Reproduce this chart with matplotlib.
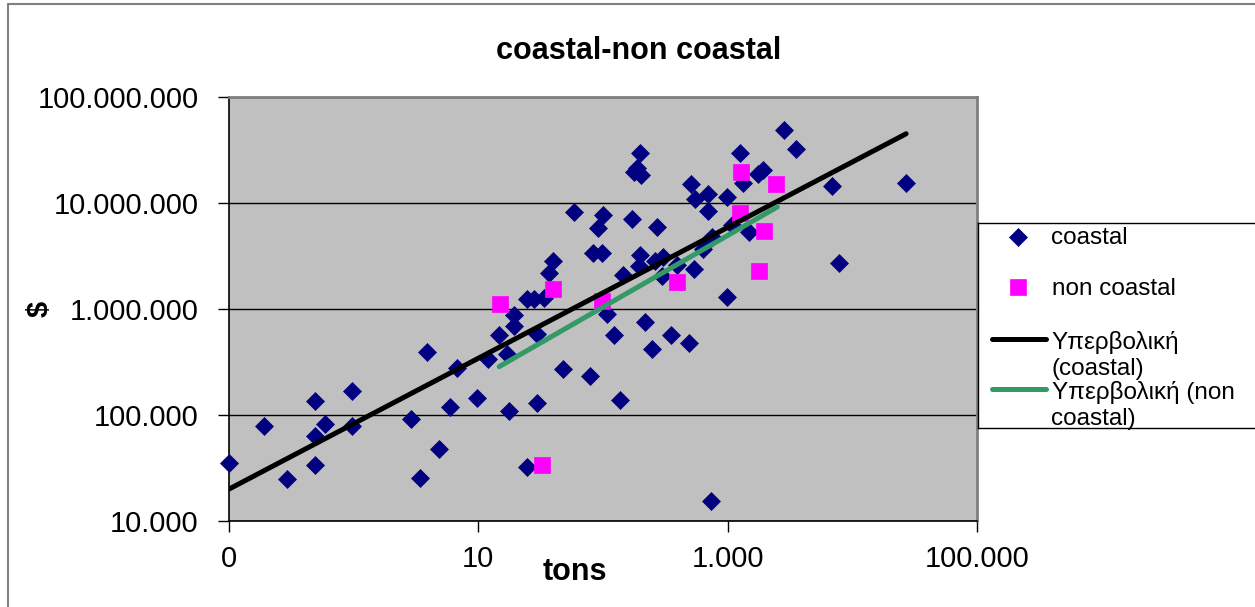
import numpy as np
import matplotlib.pyplot as plt
from matplotlib.patches import Rectangle
from matplotlib.ticker import NullLocator

plt.rcParams['font.family'] = ['Liberation Sans', 'DejaVu Sans']

# values (tons, $)
coastal_tons = [0.1, 0.19, 0.29, 0.49, 0.49, 0.59, 0.49, 0.97, 0.97, 2.9,
                3.4, 3.9, 4.8, 5.9, 6.8, 9.8, 11.9, 14.7, 17, 17.7,
                19.5, 19.5, 24.4, 29.4, 29.4, 48, 78, 137, 122, 108,
                216, 246, 145, 195, 36.6, 39.5, 24.4, 28, 33.4, 197,
                186, 201, 176, 58.7, 99.5, 91.5, 171, 272, 83.4, 98.6,
                197, 260, 301, 296, 394, 535, 637, 752, 1080, 1476,
                984, 7870, 2845, 3556, 1262, 1914, 1746, 1321, 511, 550,
                692, 984, 692, 6855, 26850, 349, 492, 731, 686]
coastal_usd = [35000, 79000, 25000, 137000, 64000, 83000, 33400, 170000, 78000, 91000,
               25700, 397000, 47800, 120000, 275000, 146000, 341000, 569000, 380000, 109000,
               869000, 692000, 32000, 587000, 131000, 269000, 233000, 140000, 574000, 897000,
               762000, 420000, 2094000, 2546000, 2163000, 2807000, 1256000, 1256000, 1283000, 29950000,
               21400000, 18400000, 19600000, 8220000, 7710000, 5810000, 7060000, 5940000, 3410000, 3370000,
               3230000, 2840000, 3090000, 2070000, 2600000, 2380000, 3680000, 4730000, 6200000, 5270000,
               1298000, 2716000, 48860000, 32300000, 29950000, 20700000, 18600000, 15280000, 14960000, 10900000,
               12160000, 11270000, 8490000, 14620000, 15450000, 574000, 483000, 15280, 4290000]

noncoastal_tons = [14.8, 39.4, 98.6, 32.3, 394, 1274, 2455, 1250, 1968, 1795]
noncoastal_usd = [1122000, 1545000, 1190000, 33760, 1817000, 19600000, 15210000, 8100000, 5440000, 2307000]

# power trendlines (end points)
coastal_fit_tons = [0.1, 27000]
coastal_fit_usd = [20000, 45000000]
noncoastal_fit_tons = [14.7, 2500]
noncoastal_fit_usd = [286000, 9170000]

x_ticks = [0.1, 10, 1000, 100000]
x_tick_labels = ['0', '10', '1.000', '100.000']
y_ticks = [1e4, 1e5, 1e6, 1e7, 1e8]
y_tick_labels = ['10.000', '100.000', '1.000.000', '10.000.000', '100.000.000']

legend_labels = ['coastal', 'non coastal', 'Υπερβολική\n(coastal)', 'Υπερβολική (non\ncoastal)']

NAVY = '#000080'
PINK = '#ff00ff'
GREEN = '#339966'
DIAMOND_MS = 9
SQUARE_MS = 11

W, H = 1255, 607
fig = plt.figure(figsize=(W / 100, H / 100), dpi=100)

# outer chart frame (right and bottom edges run off the picture)
fig.add_artist(Rectangle((8 / W, -5 / H), 1260 / W, 608 / H, transform=fig.transFigure,
                         fill=False, edgecolor='#808080', linewidth=1.5))

ax = fig.add_axes([229 / W, 1 - 521 / H, 748 / W, 424 / H])
ax.set_facecolor('#c0c0c0')
ax.set_xscale('log')
ax.set_yscale('log')
ax.set_xlim(0.1, 1e5)
ax.set_ylim(1e4, 1e8)

ax.plot(coastal_tons, coastal_usd, linestyle='none', marker='D', markersize=DIAMOND_MS,
        color=NAVY, markeredgewidth=0.5, clip_on=False, zorder=3)
ax.plot(noncoastal_tons, noncoastal_usd, linestyle='none', marker='s', markersize=SQUARE_MS,
        color=PINK, markeredgewidth=0.5, clip_on=False, zorder=3)
ax.plot(coastal_fit_tons, coastal_fit_usd, color='black', linewidth=3.6,
        solid_capstyle='round', zorder=4)
ax.plot(noncoastal_fit_tons, noncoastal_fit_usd, color=GREEN, linewidth=3.6,
        solid_capstyle='round', zorder=4)

ax.set_xticks(x_ticks, x_tick_labels)
ax.set_yticks(y_ticks, y_tick_labels)
ax.xaxis.set_minor_locator(NullLocator())
ax.yaxis.set_minor_locator(NullLocator())
ax.tick_params(axis='both', direction='out', length=8, width=1, labelsize=21)
ax.tick_params(axis='x', pad=9)
ax.tick_params(axis='y', pad=14)
ax.grid(axis='y', color='black', linewidth=1)
ax.set_axisbelow(True)

for side in ['left', 'bottom']:
    ax.spines[side].set_color('black')
    ax.spines[side].set_linewidth(1.2)
for side in ['top', 'right']:
    ax.spines[side].set_color('#808080')
    ax.spines[side].set_linewidth(2)

ax.set_xlabel('tons', fontsize=22, fontweight='bold', va='center')
ax.xaxis.set_label_coords((575 - 229) / 748, -(572 - 521) / 424)
ax.set_ylabel('$', fontsize=21, fontweight='bold', va='center')
ax.yaxis.set_label_coords(-(229 - 40) / 748, 0.5)

fig.text(639 / W, 1 - 51 / H, 'coastal-non coastal', ha='center', va='center',
         fontsize=22, fontweight='bold')

# legend box drawn in pixel units, right edge runs off the picture
lg = fig.add_axes([977.5 / W, 1 - 428 / H, 290 / W, 205 / H])
lg.set_xlim(0, 290)
lg.set_ylim(205, 0)
lg.set_xticks([])
lg.set_yticks([])
lg.set_facecolor('white')
for s in lg.spines.values():
    s.set_color('black')
    s.set_linewidth(1)

lg.plot([40.5], [13.7], marker='D', markersize=DIAMOND_MS, color=NAVY, markeredgewidth=0.5, clip_on=False)
lg.plot([40.5], [64.3], marker='s', markersize=SQUARE_MS, color=PINK, markeredgewidth=0.5, clip_on=False)
lg.plot([14.5, 68.5], [115.7, 115.7], color='black', linewidth=3.6, solid_capstyle='round')
lg.plot([14.5, 68.5], [166.4, 166.4], color=GREEN, linewidth=3.6, solid_capstyle='round')

text_x = 74
line_baselines = [[21], [71.7], [125.7, 152], [176.2, 201.7]]
for label, bases in zip(legend_labels, line_baselines):
    for part, yb in zip(label.split('\n'), bases):
        lg.text(text_x, yb, part, fontsize=17.5, ha='left', va='baseline', clip_on=False)

fig.savefig('out.png', dpi=100)
